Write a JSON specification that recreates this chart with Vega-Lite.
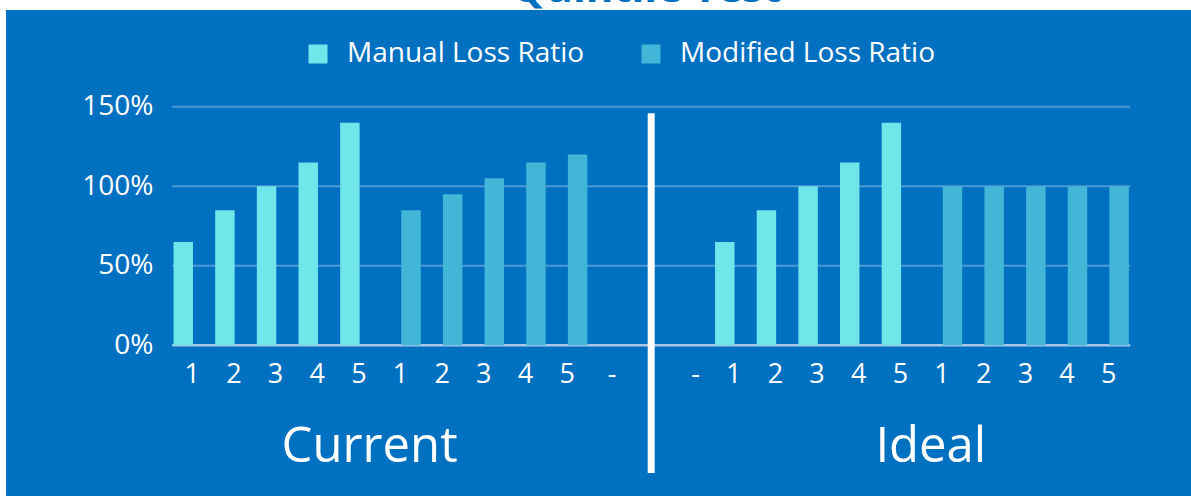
{
  "$schema": "https://vega.github.io/schema/vega-lite/v6.json",
  "width": 1185,
  "height": 486,
  "autosize": {"type": "none"},
  "padding": {"left": 6, "top": 10, "right": 0, "bottom": 0},
  "background": "#ffffff",
  "title": {"text": "Quintile Test", "color": "#0070C0", "fontSize": 42, "fontWeight": "bold", "font": "Open Sans", "anchor": "middle", "frame": "group", "dx": 48, "offset": -0.5},
  "config": {"view": {"fill": "#0070C0", "stroke": null}, "font": "Open Sans"},
  "datasets": {
    "bars": [
      {"cat": "Current Manual 1", "series": "Manual Loss Ratio", "value": 0.65},
      {"cat": "Current Manual 2", "series": "Manual Loss Ratio", "value": 0.85},
      {"cat": "Current Manual 3", "series": "Manual Loss Ratio", "value": 1.0},
      {"cat": "Current Manual 4", "series": "Manual Loss Ratio", "value": 1.15},
      {"cat": "Current Manual 5", "series": "Manual Loss Ratio", "value": 1.4},
      {"cat": "Current Modified 1", "series": "Modified Loss Ratio", "value": 0.85},
      {"cat": "Current Modified 2", "series": "Modified Loss Ratio", "value": 0.95},
      {"cat": "Current Modified 3", "series": "Modified Loss Ratio", "value": 1.05},
      {"cat": "Current Modified 4", "series": "Modified Loss Ratio", "value": 1.15},
      {"cat": "Current Modified 5", "series": "Modified Loss Ratio", "value": 1.2},
      {"cat": "Ideal Manual 1", "series": "Manual Loss Ratio", "value": 0.65},
      {"cat": "Ideal Manual 2", "series": "Manual Loss Ratio", "value": 0.85},
      {"cat": "Ideal Manual 3", "series": "Manual Loss Ratio", "value": 1.0},
      {"cat": "Ideal Manual 4", "series": "Manual Loss Ratio", "value": 1.15},
      {"cat": "Ideal Manual 5", "series": "Manual Loss Ratio", "value": 1.4},
      {"cat": "Ideal Modified 1", "series": "Modified Loss Ratio", "value": 1.0},
      {"cat": "Ideal Modified 2", "series": "Modified Loss Ratio", "value": 1.0},
      {"cat": "Ideal Modified 3", "series": "Modified Loss Ratio", "value": 1.0},
      {"cat": "Ideal Modified 4", "series": "Modified Loss Ratio", "value": 1.0},
      {"cat": "Ideal Modified 5", "series": "Modified Loss Ratio", "value": 1.0}
    ],
    "grid": [{"level": 0}, {"level": 0.5}, {"level": 1}, {"level": 1.5}],
    "groups": [
      {"group": "Current", "cat": "Current Manual 5"},
      {"group": "Ideal", "cat": "Ideal Modified 1"}
    ]
  },
  "layer": [
    {
      "data": {"name": "grid"},
      "mark": {"type": "rule"},
      "encoding": {
        "x": {"datum": "Current Manual 1", "type": "nominal", "bandPosition": 0},
        "x2": {"datum": "Ideal Modified 5", "bandPosition": 1},
        "y": {"field": "level", "type": "quantitative"},
        "stroke": {"condition": {"test": "datum.level === 0", "value": "#A9C6E6"}, "value": "#4E98D3"},
        "strokeWidth": {"condition": {"test": "datum.level === 0", "value": 2.5}, "value": 2}
      }
    },
    {
      "data": {"name": "bars"},
      "mark": {"type": "bar"},
      "encoding": {
        "x": {
          "field": "cat", "type": "nominal", "title": null,
          "scale": {
            "domain": ["pad L1", "pad L2", "pad L3",
                       "Current Manual 1", "Current Manual 2", "Current Manual 3", "Current Manual 4", "Current Manual 5",
                       "Current Modified 1", "Current Modified 2", "Current Modified 3", "Current Modified 4", "Current Modified 5",
                       "Current -", "Mid -", "Ideal -",
                       "Ideal Manual 1", "Ideal Manual 2", "Ideal Manual 3", "Ideal Manual 4", "Ideal Manual 5",
                       "Ideal Modified 1", "Ideal Modified 2", "Ideal Modified 3", "Ideal Modified 4", "Ideal Modified 5",
                       "pad R1"],
            "paddingInner": 0, "paddingOuter": 0.724, "align": 0.683
          },
          "axis": {
            "orient": "bottom", "offset": -150.7, "domain": false, "ticks": false, "grid": false,
            "values": ["Current Manual 1", "Current Manual 2", "Current Manual 3", "Current Manual 4", "Current Manual 5",
                       "Current Modified 1", "Current Modified 2", "Current Modified 3", "Current Modified 4", "Current Modified 5",
                       "Current -", "Ideal -",
                       "Ideal Manual 1", "Ideal Manual 2", "Ideal Manual 3", "Ideal Manual 4", "Ideal Manual 5",
                       "Ideal Modified 1", "Ideal Modified 2", "Ideal Modified 3", "Ideal Modified 4", "Ideal Modified 5"],
            "labelAngle": 0, "labelColor": "#ffffff", "labelFontSize": 27, "labelPadding": 29, "labelOffset": 7,
            "labelFont": "Open Sans", "labelExpr": "slice(datum.value, -1)", "zindex": 1
          }
        },
        "xOffset": {"field": "series", "type": "nominal", "scale": {"domain": ["Manual Loss Ratio", "Modified Loss Ratio"], "paddingInner": 0, "paddingOuter": 0.07}},
        "y": {
          "field": "value", "type": "quantitative", "title": null,
          "scale": {"domain": [-0.9478, 2.1088], "nice": false, "zero": false},
          "axis": {
            "orient": "left", "offset": -165.9, "domain": false, "ticks": false, "grid": false,
            "values": [0, 0.5, 1, 1.5], "format": ".0%", "labelColor": "#ffffff", "labelFontSize": 28,
            "labelPadding": 19, "labelFont": "Open Sans", "zindex": 1
          }
        },
        "y2": {"datum": 0},
        "color": {
          "field": "series", "type": "nominal",
          "scale": {"domain": ["Manual Loss Ratio", "Modified Loss Ratio"], "range": ["#6EE6EA", "#41B6D6"]},
          "legend": {
            "orient": "none", "legendX": 298, "legendY": 30, "direction": "horizontal", "title": null,
            "symbolType": "square", "symbolSize": 361, "symbolStrokeWidth": 0, "symbolOpacity": 1,
            "labelFontSize": 28, "labelColor": "#ffffff", "labelFont": "Open Sans", "labelOffset": 15,
            "labelLimit": 500, "columnPadding": 52, "padding": 0
          }
        }
      }
    },
    {
      "data": {"name": "groups"},
      "transform": [{"filter": "datum.group === 'Current'"}],
      "mark": {"type": "text", "dx": 10, "fontSize": 49, "color": "#ffffff", "baseline": "alphabetic", "align": "center", "font": "Open Sans"},
      "encoding": {
        "x": {"field": "cat", "type": "nominal"},
        "y": {"datum": -0.732, "type": "quantitative"},
        "text": {"field": "group"}
      }
    },
    {
      "data": {"name": "groups"},
      "transform": [{"filter": "datum.group === 'Ideal'"}],
      "mark": {"type": "text", "dx": -12, "fontSize": 49, "color": "#ffffff", "baseline": "alphabetic", "align": "center", "font": "Open Sans"},
      "encoding": {
        "x": {"field": "cat", "type": "nominal"},
        "y": {"datum": -0.732, "type": "quantitative"},
        "text": {"field": "group"}
      }
    },
    {
      "data": {"values": [{}]},
      "mark": {"type": "rule", "color": "#ffffff", "strokeWidth": 7},
      "encoding": {
        "x": {"datum": "Mid -", "type": "nominal"},
        "y": {"datum": 1.46, "type": "quantitative"},
        "y2": {"datum": -0.803}
      }
    }
  ]
}
